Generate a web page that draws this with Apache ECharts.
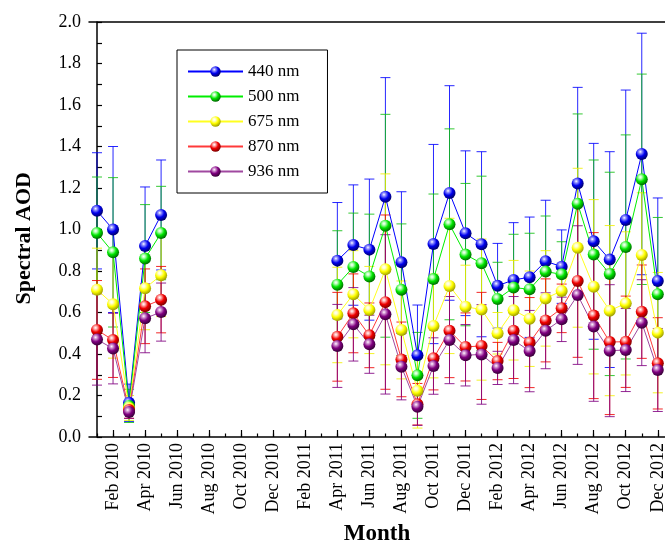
<!DOCTYPE html>
<html><head><meta charset="utf-8">
<script src="https://cdn.jsdelivr.net/npm/echarts@6/dist/echarts.min.js"></script>
<style>html,body{margin:0;padding:0;background:#fff}#c{width:665px;height:543px}</style>
</head><body><div id="c"></div>
<script>
// ---- data ----
const months = ['2010-01','2010-02','2010-03','2010-04','2010-05',
  '2011-04','2011-05','2011-06','2011-07','2011-08','2011-09','2011-10','2011-11','2011-12',
  '2012-01','2012-02','2012-03','2012-04','2012-05','2012-06','2012-07','2012-08','2012-09','2012-10','2012-11','2012-12'];
const xTickLabels = ['Feb 2010','Apr 2010','Jun 2010','Aug 2010','Oct 2010','Dec 2010',
  'Feb 2011','Apr 2011','Jun 2011','Aug 2011','Oct 2011','Dec 2011',
  'Feb 2012','Apr 2012','Jun 2012','Aug 2012','Oct 2012','Dec 2012'];
const seriesNames = ['440 nm','500 nm','675 nm','870 nm','936 nm'];
const aod440 = [1.09,1.00,0.165,0.92,1.07, 0.85,0.925,0.903,1.158,0.842,0.394,0.93,1.176,0.982, 0.929,0.729,0.757,0.77,0.847,0.821,1.222,0.943,0.855,1.046,1.364,0.752];
const err440 = [0.28,0.40,0.09,0.285,0.265, 0.28,0.29,0.34,0.574,0.34,0.242,0.48,0.517,0.397, 0.446,0.204,0.276,0.29,0.294,0.177,0.463,0.472,0.52,0.626,0.582,0.40];
const aod500 = [0.983,0.89,0.15,0.86,0.983, 0.734,0.819,0.774,1.018,0.71,0.297,0.761,1.025,0.879, 0.837,0.665,0.72,0.712,0.797,0.784,1.124,0.879,0.786,0.916,1.242,0.688];
const err500 = [0.27,0.36,0.08,0.26,0.225, 0.26,0.26,0.30,0.537,0.317,0.207,0.41,0.46,0.343, 0.42,0.177,0.257,0.27,0.268,0.157,0.433,0.456,0.49,0.54,0.507,0.37];
const aod675 = [0.71,0.64,0.14,0.717,0.78, 0.588,0.688,0.612,0.808,0.516,0.223,0.535,0.728,0.628, 0.614,0.50,0.611,0.57,0.668,0.704,0.912,0.724,0.609,0.644,0.877,0.503];
const err675 = [0.2,0.26,0.06,0.2,0.2, 0.23,0.21,0.21,0.46,0.236,0.18,0.25,0.326,0.2, 0.34,0.1,0.24,0.23,0.23,0.13,0.383,0.42,0.41,0.345,0.3,0.29];
const aod870 = [0.516,0.467,0.13,0.63,0.662, 0.483,0.596,0.49,0.65,0.374,0.158,0.379,0.512,0.434, 0.439,0.366,0.512,0.455,0.562,0.62,0.752,0.585,0.458,0.459,0.604,0.355];
const err870 = [0.238,0.18,0.04,0.18,0.16, 0.214,0.19,0.156,0.42,0.18,0.1,0.152,0.226,0.164, 0.258,0.09,0.23,0.217,0.2,0.117,0.368,0.4,0.35,0.22,0.225,0.22];
const aod936 = [0.47,0.426,0.12,0.572,0.602, 0.439,0.543,0.447,0.591,0.339,0.146,0.342,0.467,0.394, 0.398,0.333,0.467,0.414,0.512,0.567,0.684,0.532,0.416,0.419,0.551,0.323];
const err936 = [0.22,0.17,0.03,0.166,0.14, 0.2,0.177,0.14,0.384,0.16,0.09,0.136,0.21,0.148, 0.24,0.08,0.21,0.196,0.183,0.107,0.334,0.36,0.318,0.2,0.207,0.2];

// ---- helpers ----
const monNames = {Jan:0,Feb:1,Mar:2,Apr:3,May:4,Jun:5,Jul:6,Aug:7,Sep:8,Oct:9,Nov:10,Dec:11};
function monthIndex(s){ const p=s.split('-').map(Number); return (p[0]-2010)*12+(p[1]-1); }
function labelIndex(l){ const p=l.split(' '); return (Number(p[1])-2010)*12+monNames[p[0]]; }
const majorTicks = xTickLabels.map(labelIndex);
const labelByIdx = {}; xTickLabels.forEach(l=>{labelByIdx[labelIndex(l)]=l;});
const minorTicks = []; for(let i=0;i<=35;i++) minorTicks.push(i);

const values = [aod440,aod500,aod675,aod870,aod936];
const errors = [err440,err500,err675,err870,err936];
const palette = [
  {line:'#0000ff', err:'#0000ff', light:'#9a9aff', base:'#0000ee', dark:'#00006a'},
  {line:'#00ee00', err:'#10c010', light:'#c0ffc0', base:'#00e600', dark:'#006a00'},
  {line:'#ffff20', err:'#f0f000', light:'#ffffd0', base:'#ffff00', dark:'#a0a000'},
  {line:'#ff3a3a', err:'#ee0000', light:'#ffb8b8', base:'#f00000', dark:'#800000'},
  {line:'#a048a0', err:'#800080', light:'#d8a0d8', base:'#800080', dark:'#380038'}
];
const FONT = 'Liberation Serif';

function lineData(v){
  const out=[]; let prev=null;
  months.forEach((m,i)=>{ const x=monthIndex(m); if(prev!==null && x-prev>1) out.push([x-0.5,'-']); out.push([x,v[i]]); prev=x; });
  return out;
}
function sphere(p){
  return {type:'radial', x:0.38, y:0.32, r:0.68, colorStops:[
    {offset:0,color:'#ffffff'},{offset:0.18,color:p.light},{offset:0.55,color:p.base},{offset:1,color:p.dark}]};
}
function errSeries(k){
  const p = palette[k], v = values[k], e = errors[k];
  return {type:'custom', name:seriesNames[k]+' err', z:2, silent:true,
    data: months.map((m,i)=>[monthIndex(m), v[i]-e[i], v[i]+e[i]]),
    encode:{x:0, y:[1,2]},
    renderItem(params, api){
      const x = api.value(0);
      const lo = api.coord([x, api.value(1)]), hi = api.coord([x, api.value(2)]);
      const hw = 5, st = {stroke:p.err, lineWidth:1, opacity:0.85};
      return {type:'group', children:[
        {type:'line', shape:{x1:lo[0],y1:lo[1],x2:hi[0],y2:hi[1]}, style:st},
        {type:'line', shape:{x1:lo[0]-hw,y1:lo[1],x2:lo[0]+hw,y2:lo[1]}, style:st},
        {type:'line', shape:{x1:hi[0]-hw,y1:hi[1],x2:hi[0]+hw,y2:hi[1]}, style:st}
      ]};
    }};
}
function lineSeries(k){
  const p = palette[k];
  return {type:'line', name:seriesNames[k], z:3, data: lineData(values[k]), connectNulls:false,
    symbol:'circle', symbolSize:12, showAllSymbol:true,
    lineStyle:{color:p.line, width:1}, itemStyle:{color:sphere(p), borderWidth:0}};
}

const series = [];
for(let k=0;k<5;k++) series.push(errSeries(k));
for(let k=0;k<5;k++) series.push(lineSeries(k));

const chart = echarts.init(document.getElementById('c'), null, {renderer:'canvas'});
chart.setOption({
  animation:false,
  backgroundColor:'#ffffff',
  grid:{left:89, right:0, top:22, bottom:106, containLabel:false, outerBoundsMode:'none'},
  legend:{data:seriesNames, orient:'vertical', left:177, top:50, selectedMode:false,
    itemWidth:55, itemHeight:13, itemGap:8, padding:[13,28,13,10],
    borderColor:'#000', borderWidth:1, backgroundColor:'#fff',
    textStyle:{fontFamily:FONT, fontSize:17, color:'#000', lineHeight:17}},
  xAxis:[
    {type:'value', min:-0.5, max:35.45, position:'bottom',
      axisLine:{show:true, onZero:false, lineStyle:{color:'#000', width:1.5}},
      axisTick:{show:true, inside:true, length:7, customValues:majorTicks, lineStyle:{color:'#000', width:1.2}},
      axisLabel:{show:true, customValues:majorTicks, rotate:90, margin:6, color:'#000',
        fontFamily:FONT, fontSize:18, formatter:v=>labelByIdx[Math.round(v)]||''},
      splitLine:{show:false},
      name:'Month', nameLocation:'middle', nameGap:82,
      nameTextStyle:{fontFamily:FONT, fontSize:23, fontWeight:'bold', color:'#000'}},
    {type:'value', min:-0.5, max:35.45, position:'bottom',
      axisLine:{show:false}, axisLabel:{show:false}, splitLine:{show:false},
      axisTick:{show:true, inside:true, length:3.5, customValues:minorTicks, lineStyle:{color:'#000', width:1.2}}},
    {type:'value', min:-0.5, max:35.45, position:'top',
      axisLine:{show:true, onZero:false, lineStyle:{color:'#000', width:1.5}},
      axisTick:{show:false}, axisLabel:{show:false}, splitLine:{show:false}}
  ],
  yAxis:[
    {type:'value', min:0, max:2, interval:0.1, position:'left',
      axisLine:{show:true, lineStyle:{color:'#000', width:1.5}},
      axisTick:{show:true, inside:true, length:5, lineStyle:{color:'#000', width:1.2}},
      axisLabel:{color:'#000', fontFamily:FONT, fontSize:18, margin:8,
        formatter:v=>{const t=Math.round(v*10); return t%2===0 ? (t/10).toFixed(1) : '';}},
      splitLine:{show:false}}
  ],
  graphic:[{type:'text', left:13, top:172, rotation:Math.PI/2, z:10,
    style:{text:'Spectral AOD', fontFamily:FONT, fontSize:22, fontWeight:'bold', fill:'#000'}}],
  series: series
});
</script></body></html>
